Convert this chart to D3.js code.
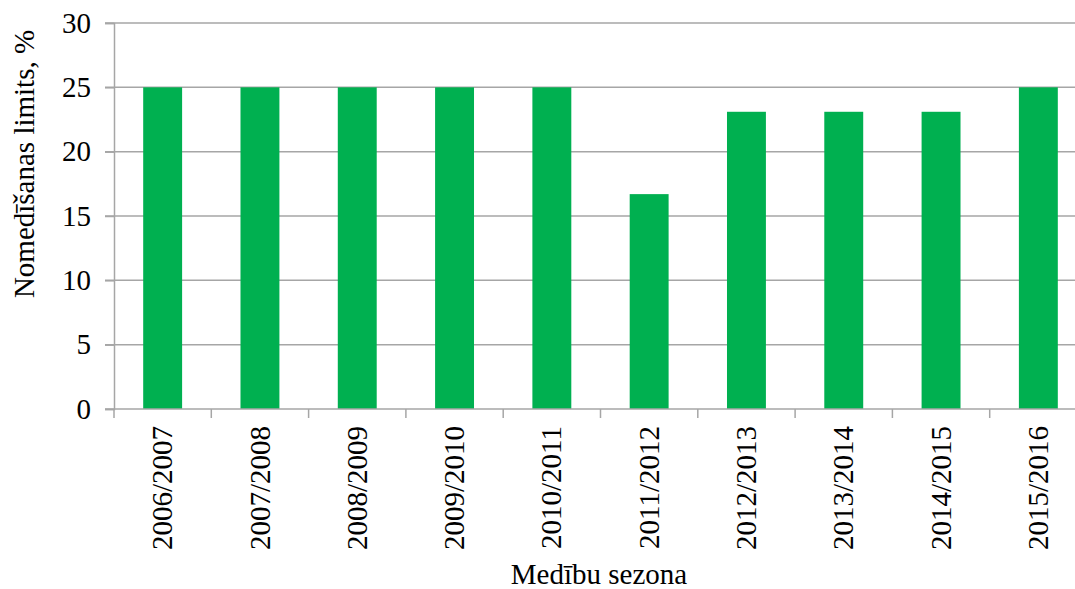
<!DOCTYPE html>
<html>
<head>
<meta charset="utf-8">
<script src="https://cdn.jsdelivr.net/npm/d3@7"></script>
</head>
<body style="margin:0;background:#fff">
<svg id="chart" width="1075" height="589"></svg>
<script>
'use strict';

// chart data
var seasons = ["2006/2007", "2007/2008", "2008/2009", "2009/2010", "2010/2011",
               "2011/2012", "2012/2013", "2013/2014", "2014/2015", "2015/2016"];
var limits = [25, 25, 25, 25, 25, 16.7, 23.1, 23.1, 23.1, 25];
var yTicks = [0, 5, 10, 15, 20, 25, 30];

// serif text, forced so nothing else overrides it
function serif(sel) {
  sel.style("font-family", "'Liberation Serif', 'Times New Roman', serif", "important")
     .style("font-size", "29px", "important")
     .style("fill", "#000");
}

(function() {
  var margin = {top: 23, left: 114, bottom: 180},
      width = 973,
      height = 589 - margin.top - margin.bottom;

  var svg = d3.select("#chart");

  var g = svg.append("g")
      .attr("transform", "translate(" + margin.left + "," + margin.top + ")");

  var x = d3.scaleBand().domain(seasons).range([0, width]).paddingInner(0.6).paddingOuter(0.3);
  var y = d3.scaleLinear().domain([0, 30]).range([height, 0]);

  // gridlines
  g.selectAll("line.grid")
    .data(yTicks.filter(function(d) { return d > 0; }))
    .enter().append("line")
      .attr("class", "grid")
      .attr("x1", -9).attr("x2", width)
      .attr("y1", function(d) { return y(d); })
      .attr("y2", function(d) { return y(d); })
      .style("stroke", "#a6a6a6").style("stroke-width", 1.5);

  // bars
  g.selectAll("rect")
    .data(limits)
    .enter().append("rect")
      .attr("x", function(d, i) { return x(seasons[i]); })
      .attr("y", function(d) { return y(d); })
      .attr("width", x.bandwidth())
      .attr("height", function(d) { return height - y(d); })
      .style("fill", "#00b050");

  // y axis
  var yAxis = g.append("g")
      .call(d3.axisLeft(y).tickValues(yTicks).tickSize(9).tickPadding(14));
  yAxis.select(".domain").style("stroke", "#a6a6a6").style("stroke-width", 1.5);
  yAxis.selectAll(".tick line").style("stroke", "#a6a6a6").style("stroke-width", 1.5);
  yAxis.selectAll("text").call(serif);

  // x axis with ticks between categories
  var step = x.step();
  var xg = g.append("g").attr("transform", "translate(0," + height + ")");
  xg.append("line")
      .attr("x1", -9).attr("x2", width)
      .style("stroke", "#a6a6a6").style("stroke-width", 1.5);
  xg.selectAll("line.tk")
    .data(d3.range(seasons.length + 1))
    .enter().append("line")
      .attr("class", "tk")
      .attr("x1", function(d) { return d * step; })
      .attr("x2", function(d) { return d * step; })
      .attr("y1", 0).attr("y2", 9)
      .style("stroke", "#a6a6a6").style("stroke-width", 1.5);
  xg.selectAll("text")
    .data(seasons)
    .enter().append("text")
      .attr("transform", function(d) {
        return "translate(" + (x(d) + x.bandwidth() / 2) + ",17) rotate(-90)";
      })
      .attr("dy", "0.33em")
      .attr("text-anchor", "end")
      .call(serif)
      .text(function(d) { return d; });

  // axis titles
  svg.append("text")
      .attr("transform", "translate(34,164) rotate(-90)")
      .attr("text-anchor", "middle")
      .call(serif)
      .text("Nomedīšanas limits, %");

  svg.append("text")
      .attr("x", 599).attr("y", 584)
      .attr("text-anchor", "middle")
      .call(serif)
      .text("Medību sezona");
})();
</script>
</body>
</html>
